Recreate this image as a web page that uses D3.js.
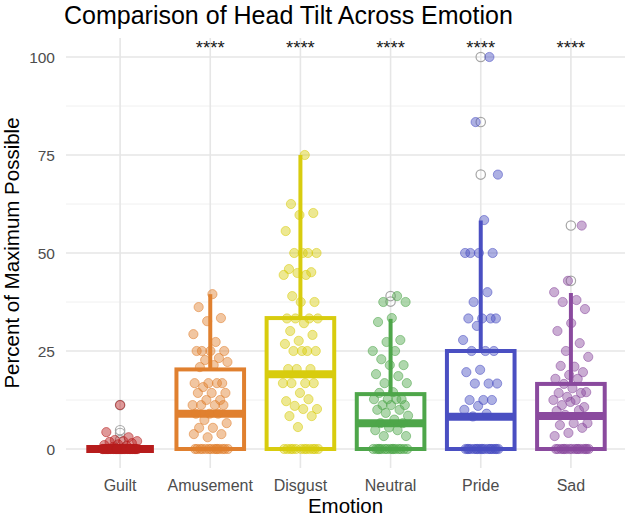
<!DOCTYPE html>
<html>
<head>
<meta charset="utf-8">
<script src="https://cdn.jsdelivr.net/npm/d3@7"></script>
<style>
  html, body { margin: 0; padding: 0; background: #ffffff; }
  svg { display: block; font-family: "Liberation Sans", Arial, Helvetica, sans-serif; }
</style>
</head>
<body>
<svg id="chart" width="629" height="517"></svg>
<script>
// ---------- data ----------
const categories = ["Guilt", "Amusement", "Disgust", "Neutral", "Pride", "Sad"];
const colors = ["#b71c1c", "#e0802f", "#d8cc0e", "#4ea64a", "#4a4fc2", "#8a4a9e"];

const zeros = n => Array(n).fill(0);

const guiltValues = [11.2, 4.3, 3.0, 2.3, 2.0, 2.0, 1.8, 1.5, 1.2, 1.0, 0.8, 0.5].concat(zeros(40));
const amusementValues = [39.5, 36.2, 33.4, 32.6, 29.3, 27.3, 25, 25, 25, 25, 23.2, 22.7, 22.2, 21.4, 20.9,
  16.8, 16.8, 16.8, 16.8, 15.8, 14.3, 14.3, 14.3, 12.5, 12.5, 11.2, 11.2, 11.2, 11.2, 9, 9, 9,
  7.4, 6.6, 5.4, 5.4, 3.8, 3.0, 3.8].concat(zeros(14));
const disgustValues = [75, 62.5, 60.2, 59.7, 55.6, 50, 50, 50, 50, 45.9, 45.1, 44.9, 44.4, 44.4, 39, 37.5, 37.5,
  33.3, 33.3, 33.3, 33.3, 32.1, 30.1, 29.1, 27.6, 26.8, 25, 25, 25, 25, 20.4, 20.4, 20.4,
  16.8, 16.8, 16.8, 16.8, 14.3, 12.2, 12.7, 11, 10.2, 10.2, 8.4, 8.4, 5.6].concat(zeros(12));
const neutralValues = [39, 37.5, 37.5, 33.4, 32.4, 27.8, 27.3, 25, 25, 22.9, 21.4, 21.4, 19.1, 18.6, 16.8, 16.8,
  14.5, 14.3, 12.7, 12.7, 12.7, 12.7, 11.2, 11.2, 11.2, 10, 10, 9.2, 8.5, 7.5, 6.6, 6.6, 5.5,
  4.8, 4.8, 3.3, 3.3].concat(zeros(15));
const prideValues = [100, 83.4, 70, 58.4, 50, 50, 50, 50, 40, 37.5, 33.3, 33.3, 33.3, 33.3, 31.4, 27.8,
  25, 25, 25, 20.2, 19.6, 16.7, 16.7, 16.7, 12.5, 12.5, 12.5, 11, 10, 9, 8.3].concat(zeros(18));
const sadValues = [57, 42.9, 40, 38, 37.5, 35.7, 32.1, 30.1, 27, 25, 23.5, 21, 21.2, 19.6, 18.9, 17.9, 17.9,
  16.6, 14.5, 15.5, 14.3, 14.3, 13.3, 12.5, 12.5, 11.2, 10.7, 12, 9.7, 9.9, 8.7, 6.6, 6.6, 6.1,
  5.4, 4.1, 3.3].concat(zeros(16));
const seriesValues = [guiltValues, amusementValues, disgustValues, neutralValues, prideValues, sadValues];

// box statistics
const q1 = [0, 0, 0, 0, 0, 0];
const medians = [0, 9, 19.1, 6.6, 8.2, 8.4];
const q3 = [0, 20.3, 33.4, 14, 25, 16.6];
const whiskerLow = [0, 0, 0, 0, 0, 0];
const whiskerHigh = [0, 39.5, 75, 33.2, 58.3, 39.8];
const outliers = [[11.2, 4.8, 4.1, 2.3], [], [], [39, 37.6], [100, 83.4, 70], [57, 42.9]];

const significance = ["", "****", "****", "****", "****", "****"];
const yTicks = [0, 25, 50, 75, 100];
const yMinor = [12.5, 37.5, 62.5, 87.5];

// ---------- layout ----------
const svg = d3.select("#chart");
const panel = { left: 66, right: 625, top: 38, bottom: 468 };

const x = d3.scalePoint().domain(categories).range([panel.left, panel.right]).padding(0.6);
const y = d3.scaleLinear().domain([0, 100]).range([449, 57]);
const step = x.step();
const boxW = step * 0.75;
const jitterW = step * 0.2;

// grid
const grid = svg.append("g");
grid.selectAll(".minor").data(yMinor).join("line")
  .attr("x1", panel.left).attr("x2", panel.right)
  .attr("y1", d => y(d)).attr("y2", d => y(d))
  .attr("stroke", "#f0f0f0").attr("stroke-width", 1);
grid.selectAll(".major").data(yTicks).join("line")
  .attr("x1", panel.left).attr("x2", panel.right)
  .attr("y1", d => y(d)).attr("y2", d => y(d))
  .attr("stroke", "#e6e6e6").attr("stroke-width", 1.6);
grid.selectAll(".vmajor").data(categories).join("line")
  .attr("x1", d => x(d)).attr("x2", d => x(d))
  .attr("y1", panel.top).attr("y2", panel.bottom)
  .attr("stroke", "#e6e6e6").attr("stroke-width", 1.6);

// boxes
const stats = categories.map((c, i) => ({
  cat: c, color: colors[i], q1: q1[i], med: medians[i], q3: q3[i],
  lo: whiskerLow[i], hi: whiskerHigh[i], out: outliers[i]
}));

const boxes = svg.append("g");
stats.forEach(s => {
  const g = boxes.append("g");
  const cx = x(s.cat);
  g.append("line").attr("x1", cx).attr("x2", cx)
    .attr("y1", y(s.q3)).attr("y2", y(s.hi))
    .attr("stroke", s.color).attr("stroke-width", 4);
  g.append("line").attr("x1", cx).attr("x2", cx)
    .attr("y1", y(s.q1)).attr("y2", y(s.lo))
    .attr("stroke", s.color).attr("stroke-width", 4);
  g.append("rect")
    .attr("x", cx - boxW / 2).attr("width", boxW)
    .attr("y", y(s.q3)).attr("height", Math.max(0, y(s.q1) - y(s.q3)))
    .attr("fill", "#ffffff").attr("stroke", s.color).attr("stroke-width", 4);
  g.append("line")
    .attr("x1", cx - boxW / 2).attr("x2", cx + boxW / 2)
    .attr("y1", y(s.med)).attr("y2", y(s.med))
    .attr("stroke", s.color).attr("stroke-width", 8);
  g.selectAll("circle").data(s.out).join("circle")
    .attr("cx", cx).attr("cy", d => y(d)).attr("r", 4.7)
    .attr("fill", "none").attr("stroke", "#a6a6a6").attr("stroke-width", 1.2);
});

// jittered points (deterministic spread, first point of each group centred)
const pts = svg.append("g");
categories.forEach((c, i) => {
  const vals = seriesValues[i];
  pts.selectAll(null).data(vals).join("circle")
    .attr("cx", (d, j) => x(c) + ((((j * 0.6180339887) + 0.5 + 0.06 * i) % 1) * 2 - 1) * jitterW)
    .attr("cy", d => y(d))
    .attr("r", 4.6)
    .attr("fill", colors[i]).attr("fill-opacity", 0.45)
    .attr("stroke", colors[i]).attr("stroke-opacity", 0.55).attr("stroke-width", 1);
});

// significance stars
svg.append("g").selectAll("text").data(categories).join("text")
  .attr("x", d => x(d)).attr("y", 54)
  .attr("text-anchor", "middle")
  .attr("font-size", 18.5).attr("fill", "#1a1a1a")
  .text((d, i) => significance[i]);

// y tick labels
svg.append("g").selectAll("text").data(yTicks).join("text")
  .attr("x", 55).attr("y", d => y(d))
  .attr("dy", "0.36em")
  .attr("text-anchor", "end")
  .attr("font-size", 15.5).attr("fill", "#4d4d4d")
  .text(d => d);

// x tick labels
svg.append("g").selectAll("text").data(categories).join("text")
  .attr("x", d => x(d)).attr("y", 491)
  .attr("text-anchor", "middle")
  .attr("font-size", 16).attr("fill", "#4d4d4d")
  .text(d => d);

// axis titles
svg.append("text")
  .attr("x", (panel.left + panel.right) / 2).attr("y", 513)
  .attr("text-anchor", "middle").attr("font-size", 20.5).attr("fill", "#000")
  .text("Emotion");
svg.append("text")
  .attr("transform", `translate(19,${y(50)}) rotate(-90)`)
  .attr("text-anchor", "middle").attr("font-size", 20.5).attr("fill", "#000")
  .text("Percent of Maximum Possible");

// title
svg.append("text")
  .attr("x", 64).attr("y", 24)
  .attr("font-size", 25).attr("fill", "#000")
  .text("Comparison of Head Tilt Across Emotion");
</script>
</body>
</html>
